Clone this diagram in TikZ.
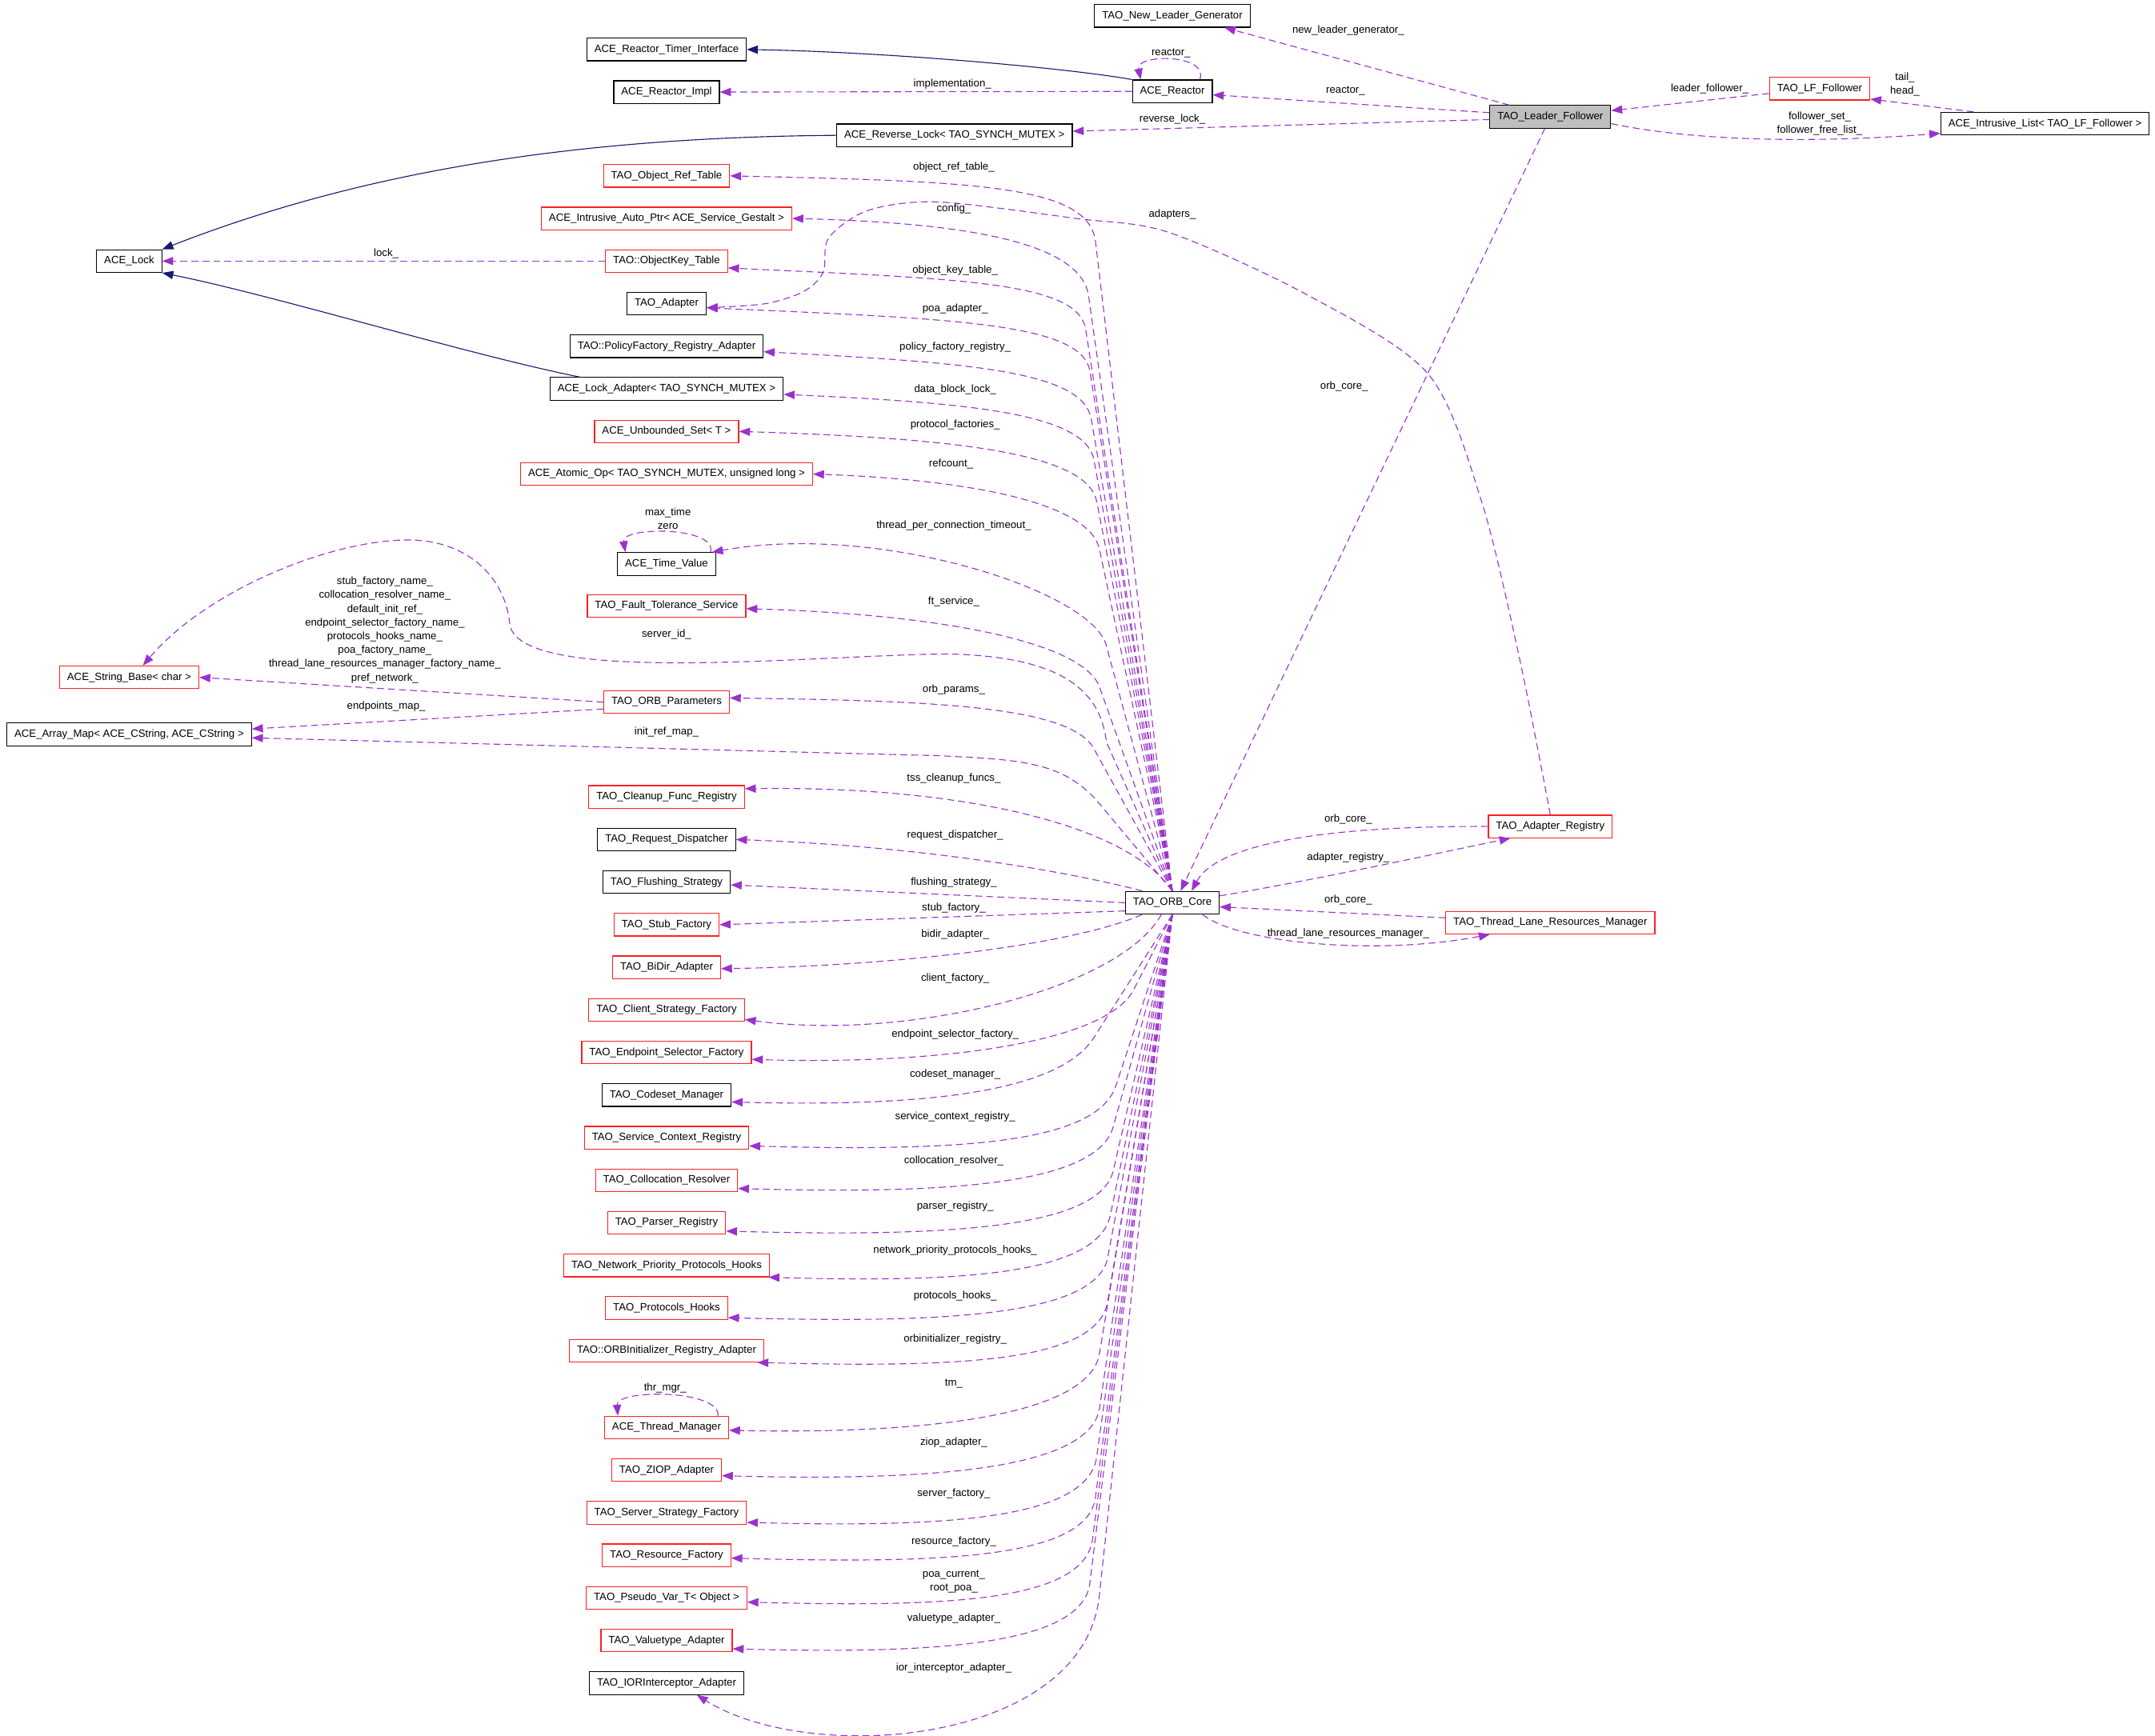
\documentclass[tikz,border=0pt]{standalone}
\usepackage{fontspec}
\setmainfont{Liberation Sans}
\usetikzlibrary{arrows.meta}
\usepackage{xcolor}
\definecolor{orchid}{HTML}{9A32CD}
\definecolor{navy}{HTML}{191970}
\definecolor{redline}{HTML}{FF2020}
\definecolor{mainfill}{HTML}{BFBFBF}
\tikzset{
  cls/.style={draw=black,fill=white,line width=0.7pt,minimum height=16.5pt,inner xsep=5.5pt,inner ysep=0pt,font=\fontsize{7.7}{10}\selectfont},
  trunc/.style={cls,draw=redline},
  focus/.style={cls,fill=mainfill},
  usage/.style={draw=orchid,line width=0.65pt,dash pattern=on 5pt off 3pt,-{Triangle[length=8pt,width=6pt]}},
  inherit/.style={draw=navy,line width=0.65pt,-{Triangle[length=8pt,width=6pt]}},
  lbl/.style={font=\fontsize{7.7}{10}\selectfont,align=center,inner sep=0pt}
}

\begin{document}
\begin{tikzpicture}[x=1pt,y=-1pt]
    \useasboundingbox (0,0) rectangle (1568,1263);
    \node[cls] (nlg) at (853,11.5) {TAO\_New\_Leader\_Generator};
    \node[cls] (rti) at (485,36) {ACE\_Reactor\_Timer\_Interface};
    \node[cls] (rimpl) at (485,67) {ACE\_Reactor\_Impl};
    \node[cls] (reactor) at (853,66.5) {ACE\_Reactor};
    \node[focus] (lf) at (1128,85) {TAO\_Leader\_Follower};
    \node[trunc] (lff) at (1324,64.5) {TAO\_LF\_Follower};
    \node[cls] (ilist) at (1488,90) {ACE\_Intrusive\_List< TAO\_LF\_Follower >};
    \node[cls] (rlock) at (694.5,98.5) {ACE\_Reverse\_Lock< TAO\_SYNCH\_MUTEX >};
    \node[trunc] (ort) at (485,128) {TAO\_Object\_Ref\_Table};
    \node[trunc] (iap) at (485,159) {ACE\_Intrusive\_Auto\_Ptr< ACE\_Service\_Gestalt >};
    \node[trunc] (okt) at (485,190) {TAO::ObjectKey\_Table};
    \node[cls] (lock) at (94,190) {ACE\_Lock};
    \node[cls] (adapter) at (485,221) {TAO\_Adapter};
    \node[cls] (pfra) at (485,252) {TAO::PolicyFactory\_Registry\_Adapter};
    \node[cls] (ladapter) at (485,283) {ACE\_Lock\_Adapter< TAO\_SYNCH\_MUTEX >};
    \node[trunc] (uset) at (485,314) {ACE\_Unbounded\_Set< T >};
    \node[trunc] (atomic) at (485,345) {ACE\_Atomic\_Op< TAO\_SYNCH\_MUTEX, unsigned long >};
    \node[cls] (tv) at (485,410.5) {ACE\_Time\_Value};
    \node[trunc] (fts) at (485,441) {TAO\_Fault\_Tolerance\_Service};
    \node[trunc] (sbase) at (94,493) {ACE\_String\_Base< char >};
    \node[trunc] (orbp) at (485,511) {TAO\_ORB\_Parameters};
    \node[cls] (amap) at (94,534.5) {ACE\_Array\_Map< ACE\_CString, ACE\_CString >};
    \node[trunc] (cfr) at (485,580) {TAO\_Cleanup\_Func\_Registry};
    \node[cls] (rd) at (485,611) {TAO\_Request\_Dispatcher};
    \node[cls] (fs) at (485,642) {TAO\_Flushing\_Strategy};
    \node[trunc] (sf) at (485,673) {TAO\_Stub\_Factory};
    \node[trunc] (bidir) at (485,704) {TAO\_BiDir\_Adapter};
    \node[trunc] (csf) at (485,735) {TAO\_Client\_Strategy\_Factory};
    \node[trunc] (esf) at (485,766) {TAO\_Endpoint\_Selector\_Factory};
    \node[cls] (cm) at (485,797) {TAO\_Codeset\_Manager};
    \node[trunc] (scr) at (485,828) {TAO\_Service\_Context\_Registry};
    \node[trunc] (cr) at (485,859) {TAO\_Collocation\_Resolver};
    \node[trunc] (pr) at (485,890) {TAO\_Parser\_Registry};
    \node[trunc] (npph) at (485,921) {TAO\_Network\_Priority\_Protocols\_Hooks};
    \node[trunc] (ph) at (485,952) {TAO\_Protocols\_Hooks};
    \node[trunc] (oira) at (485,983) {TAO::ORBInitializer\_Registry\_Adapter};
    \node[trunc] (thrm) at (485,1039) {ACE\_Thread\_Manager};
    \node[trunc] (ziop) at (485,1070) {TAO\_ZIOP\_Adapter};
    \node[trunc] (ssf) at (485,1101) {TAO\_Server\_Strategy\_Factory};
    \node[trunc] (rf) at (485,1132) {TAO\_Resource\_Factory};
    \node[trunc] (pvt) at (485,1163) {TAO\_Pseudo\_Var\_T< Object >};
    \node[trunc] (vta) at (485,1194) {TAO\_Valuetype\_Adapter};
    \node[cls] (iora) at (485,1225) {TAO\_IORInterceptor\_Adapter};
    \node[cls] (core) at (853,657) {TAO\_ORB\_Core};
    \node[trunc] (areg) at (1128,601.5) {TAO\_Adapter\_Registry};
    \node[trunc] (tlrm) at (1128,671.5) {TAO\_Thread\_Lane\_Resources\_Manager};

    \draw[inherit] (reactor.north west) .. controls (780,50) and (650,38) .. (rti.east);
    \draw[inherit] (rlock.west) .. controls (400,100) and (250,130) .. (lock.north east);
    \draw[inherit] ([xshift=22pt]ladapter.north west) .. controls (340,258) and (200,215) .. (lock.south east);

    \draw[usage] ([xshift=-30pt]lf.north) -- ([xshift=-19pt]nlg.south east);
    \draw[usage] ([yshift=3pt]lf.west) -- ([yshift=-2.5pt]reactor.east);
    \draw[usage] ([yshift=-2pt]lf.west) -- ([yshift=3pt]rlock.east);
    \draw[usage] (reactor.west) -- (rimpl.east);
    \draw[usage] ([xshift=20pt]reactor.north) .. controls (880,39) and (826,39) .. ([xshift=-23pt]reactor.north);
    \draw[usage] ([yshift=-3.5pt]lff.west) -- ([yshift=4.5pt]lf.east);
    \draw[usage] ([xshift=-52pt]ilist.north) -- ([yshift=1pt]lff.south east);
    \draw[usage] ([yshift=-5pt]lf.east) .. controls (1250,106) and (1350,102) .. ([yshift=-7pt]ilist.west);
    \draw[usage] ([xshift=-4pt]lf.south) -- ([xshift=6pt]core.north);
    \draw[usage] (areg.west) .. controls (960,601) and (885,615) .. ([xshift=14pt]core.north);
    \draw[usage] ([yshift=5pt]core.east) .. controls (960,640) and (1050,620) .. ([xshift=-29pt]areg.south);
    \draw[usage] ([yshift=3.5pt]tlrm.west) -- ([yshift=-3pt]core.east);
    \draw[usage] ([xshift=22pt]core.south) .. controls (900,686) and (1000,696) .. ([xshift=-44pt]tlrm.south);
    \draw[usage] plot[smooth] coordinates {(areg.north) (1106,481) (1078,365) (1039,272) (950,214) (850,169) (783,159) (683,147) (632,153) (603,173) (599,198) (585,212) (557,221) ([yshift=-3pt]adapter.east)};
    \draw[usage] (okt.west) -- (lock.east);

    \draw[usage] (core.north) -- (797,175) .. controls +(-6,-40) and +(180,4) .. (ort.east);
    \draw[usage] (core.north) -- (792,215) .. controls +(-6,-40) and +(120,3) .. (iap.east);
    \draw[usage] (core.north) -- (790,240) .. controls +(-5,-35) and +(170,8) .. ([yshift=-5pt]okt.east);
    \draw[usage] (core.north) -- (793,270) .. controls +(-6,-35) and +(180,8) .. ([yshift=-3pt]adapter.east);
    \draw[usage] (core.north) -- (794,305) .. controls +(-6,-35) and +(150,8) .. ([yshift=-4pt]pfra.east);
    \draw[usage] (core.north) -- (796,335) .. controls +(-6,-35) and +(130,6) .. ([yshift=-4pt]ladapter.east);
    \draw[usage] (core.north) -- (798,365) .. controls +(-7,-35) and +(160,5) .. (uset.east);
    \draw[usage] (core.north) -- (800,400) .. controls +(-7,-35) and +(110,4) .. (atomic.east);
    \draw[usage] (core.north) -- (805,470) .. controls +(-10,-40) and +(121,-22) .. ([xshift=-3pt]tv.north east);
    \draw[usage] ([xshift=-4pt]tv.north east) .. controls (522,383) and (452,383) .. ([xshift=6pt]tv.north west);
    \draw[usage] (core.north) -- (800,500) .. controls +(-12,-33) and +(140,4) .. ([yshift=-2pt]fts.east);
    \draw[usage] (core.north) -- (805,540) .. controls (800,495) and (760,478) .. (692,476)
      .. controls (600,476) and (380,500) .. (371,455) .. controls (368,420) and (340,393) .. (297,393)
      .. controls (240,393) and (150,430) .. ([xshift=10pt]sbase.north);
    \draw[usage] (orbp.west) -- (sbase.east);
    \draw[usage] ([yshift=-5pt]orbp.west) -- ([yshift=4pt]amap.east);
    \draw[usage] (core.north) -- (796,545) .. controls +(-17,-31) and +(150,2) .. ([yshift=3pt]orbp.east);
    \draw[usage] (core.north) -- (800,585) .. controls +(-26,-31) and +(60,3) .. (683,550) -- ([yshift=-2.5pt]amap.east);
    \draw[usage] (core.north) .. controls (820,600) and (700,572) .. ([yshift=6pt]cfr.east);
    \draw[usage] ([xshift=-22pt]core.north) .. controls (760,630) and (650,615) .. (rd.east);
    \draw[usage] (core.west) -- ([yshift=-2pt]fs.east);
    \draw[usage] ([yshift=-6pt]core.west) -- (sf.east);
    \draw[usage] ([xshift=-22pt]core.south) .. controls (780,688) and (650,703) .. ([yshift=-1pt]bidir.east);
    \draw[usage] ([xshift=-8pt]core.south) .. controls (815,720) and (660,758) .. ([yshift=-7pt]csf.east);
    \draw[usage] (core.south) -- (825,720) .. controls +(-20,40) and +(130,4) .. ([yshift=-5pt]esf.east);
    \draw[usage] (core.south) -- (796,755) .. controls +(-24,38) and +(150,4) .. ([yshift=-5pt]cm.east);
    \draw[usage] (core.south) -- (812,790) .. controls +(-14,43) and +(150,4) .. ([yshift=-6pt]scr.east);
    \draw[usage] (core.south) -- (810,820) .. controls +(-12,43) and +(150,4) .. ([yshift=-6pt]cr.east);
    \draw[usage] (core.south) -- (810,852) .. controls +(-10,44) and +(150,4) .. ([yshift=-6pt]pr.east);
    \draw[usage] (core.south) -- (808,884) .. controls +(-9,44) and +(140,4) .. ([xshift=-1pt]npph.south east);
    \draw[usage] (core.south) -- (806,915) .. controls +(-8,44) and +(150,4) .. ([yshift=-7pt]ph.east);
    \draw[usage] (core.south) -- (806,947) .. controls +(-7,44) and +(150,4) .. ([xshift=-5pt]oira.south east);
    \draw[usage] (core.south) -- (800,985) .. controls +(-7,44) and +(150,3) .. ([yshift=-2pt]thrm.east);
    \draw[usage] ([xshift=-8pt]thrm.north east) .. controls (524,1011) and (448,1011) .. ([xshift=10pt]thrm.north west);
    \draw[usage] (core.south) -- (800,1025) .. controls +(-7,45) and +(150,4) .. ([yshift=-4pt]ziop.east);
    \draw[usage] (core.south) -- (798,1060) .. controls +(-6,45) and +(150,4) .. ([yshift=-7pt]ssf.east);
    \draw[usage] (core.south) -- (797,1090) .. controls +(-6,45) and +(150,4) .. ([yshift=-2pt]rf.east);
    \draw[usage] (core.south) -- (795,1120) .. controls +(-6,45) and +(150,4) .. ([yshift=-3pt]pvt.east);
    \draw[usage] (core.south) -- (793,1152) .. controls +(-5,45) and +(150,4) .. ([yshift=-6pt]vta.east);
    \draw[usage] (core.south) -- (800,1160) .. controls +(-10,110) and +(83,52) .. ([xshift=22pt]iora.south);

    \node[lbl] (l-nlg) at (981,22) {new\_leader\_generator\_};
    \node[lbl] (l-rself) at (852,39) {reactor\_};
    \node[lbl] (l-impl) at (693,61) {implementation\_};
    \node[lbl] (l-react) at (979,66) {reactor\_};
    \node[lbl] (l-rlock) at (853,87) {reverse\_lock\_};
    \node[lbl] (l-lf) at (1244,64.5) {leader\_follower\_};
    \node[lbl] (l-th) at (1386,61.5) {tail\_\\head\_};
    \node[lbl] (l-fs) at (1324,90) {follower\_set\_\\follower\_free\_list\_};
    \node[lbl] (l-ort) at (694,122) {object\_ref\_table\_};
    \node[lbl] (l-conf) at (694,152) {config\_};
    \node[lbl] (l-adps) at (853,156) {adapters\_};
    \node[lbl] (l-lock) at (281,184.5) {lock\_};
    \node[lbl] (l-okt) at (695,197) {object\_key\_table\_};
    \node[lbl] (l-poa) at (695,225) {poa\_adapter\_};
    \node[lbl] (l-pfr) at (695,253) {policy\_factory\_registry\_};
    \node[lbl] (l-dbl) at (695,283.5) {data\_block\_lock\_};
    \node[lbl] (l-pf) at (695,309) {protocol\_factories\_};
    \node[lbl] (l-ref) at (692,338) {refcount\_};
    \node[lbl] (l-lfcore) at (978,281) {orb\_core\_};
    \node[lbl] (l-tvself) at (486,377.5) {max\_time\\zero};
    \node[lbl] (l-tpc) at (694,382.5) {thread\_per\_connection\_timeout\_};
    \node[lbl] (l-ft) at (694,438) {ft\_service\_};
    \node[lbl] (l-sid) at (485,461.5) {server\_id\_};
    \node[lbl] (l-names) at (280,458.5) {stub\_factory\_name\_\\collocation\_resolver\_name\_\\default\_init\_ref\_\\endpoint\_selector\_factory\_name\_\\protocols\_hooks\_name\_\\poa\_factory\_name\_\\thread\_lane\_resources\_manager\_factory\_name\_\\pref\_network\_};
    \node[lbl] (l-epm) at (281,514) {endpoints\_map\_};
    \node[lbl] (l-orbp) at (694,502) {orb\_params\_};
    \node[lbl] (l-irm) at (485,533) {init\_ref\_map\_};
    \node[lbl] (l-tss) at (694,566.5) {tss\_cleanup\_funcs\_};
    \node[lbl] (l-rd) at (695,608) {request\_dispatcher\_};
    \node[lbl] (l-fls) at (694,642) {flushing\_strategy\_};
    \node[lbl] (l-sf) at (694,661) {stub\_factory\_};
    \node[lbl] (l-bd) at (695,680) {bidir\_adapter\_};
    \node[lbl] (l-cf) at (695,712) {client\_factory\_};
    \node[lbl] (l-esf) at (695,753) {endpoint\_selector\_factory\_};
    \node[lbl] (l-cm) at (695,782) {codeset\_manager\_};
    \node[lbl] (l-scr) at (695,813) {service\_context\_registry\_};
    \node[lbl] (l-cr) at (694,845) {collocation\_resolver\_};
    \node[lbl] (l-pr) at (695,878) {parser\_registry\_};
    \node[lbl] (l-npph) at (695,910) {network\_priority\_protocols\_hooks\_};
    \node[lbl] (l-ph) at (695,943) {protocols\_hooks\_};
    \node[lbl] (l-oira) at (695,975) {orbinitializer\_registry\_};
    \node[lbl] (l-tm) at (694,1007) {tm\_};
    \node[lbl] (l-thr) at (484,1010) {thr\_mgr\_};
    \node[lbl] (l-ziop) at (694,1050) {ziop\_adapter\_};
    \node[lbl] (l-ssf) at (694,1087) {server\_factory\_};
    \node[lbl] (l-rf) at (694,1122) {resource\_factory\_};
    \node[lbl] (l-pvt) at (694,1151) {poa\_current\_\\root\_poa\_};
    \node[lbl] (l-vta) at (694,1178) {valuetype\_adapter\_};
    \node[lbl] (l-iora) at (694,1214) {ior\_interceptor\_adapter\_};
    \node[lbl] (l-arcore) at (981,596) {orb\_core\_};
    \node[lbl] (l-areg) at (981,624) {adapter\_registry\_};
    \node[lbl] (l-tlcore) at (981,655) {orb\_core\_};
    \node[lbl] (l-tlrm) at (981,679.5) {thread\_lane\_resources\_manager\_};
\end{tikzpicture}
\end{document}
